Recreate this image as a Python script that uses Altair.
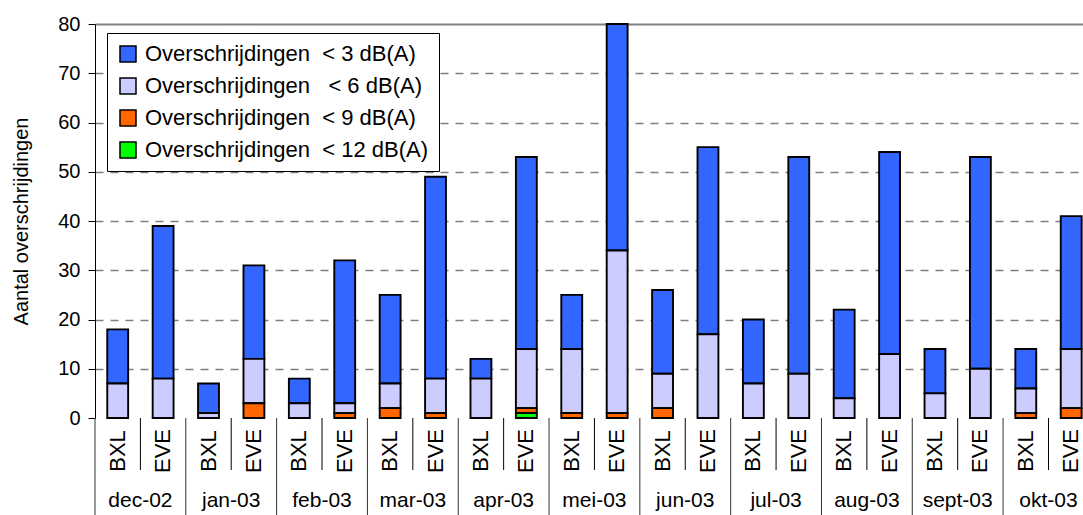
import altair as alt
import pandas as pd

months = ["dec-02", "jan-03", "feb-03", "mar-03", "apr-03", "mei-03",
          "jun-03", "jul-03", "aug-03", "sept-03", "okt-03"]
stations = ["BXL", "EVE"]
NB = "\u00a0"
categories = [
    "Overschrijdingen" + NB * 2 + "< 3 dB(A)",
    "Overschrijdingen" + NB * 3 + "< 6 dB(A)",
    "Overschrijdingen" + NB * 2 + "< 9 dB(A)",
    "Overschrijdingen" + NB * 2 + "< 12 dB(A)",
]
colors = ["#3366FF", "#CCCCFF", "#FF6600", "#00FF00"]

# segment counts per bar (dec BXL, dec EVE, jan BXL, jan EVE, ...)
lt3 = [11, 31, 6, 19, 5, 29, 18, 41, 4, 39, 11, 46, 17, 38, 13, 44, 18, 41, 9, 43, 8, 27]
lt6 = [7, 8, 1, 9, 3, 2, 5, 7, 8, 12, 13, 33, 7, 17, 7, 9, 4, 13, 5, 10, 5, 12]
lt9 = [0, 0, 0, 3, 0, 1, 2, 1, 0, 1, 1, 1, 2, 0, 0, 0, 0, 0, 0, 0, 1, 2]
lt12 = [0, 0, 0, 0, 0, 0, 0, 0, 0, 1, 0, 0, 0, 0, 0, 0, 0, 0, 0, 0, 0, 0]
series = [lt3, lt6, lt9, lt12]

rows = []
for i in range(len(months) * 2):
    for c, (cat, vals) in enumerate(zip(categories, series)):
        rows.append({"idx": i, "month": months[i // 2], "station": stations[i % 2],
                     "cat": cat, "value": vals[i], "stackorder": 3 - c})
df = pd.DataFrame(rows)

bars_df = pd.DataFrame({"idx": list(range(22)),
                        "station": [stations[i % 2] for i in range(22)]})
months_df = pd.DataFrame({"m": list(range(len(months))), "label": months})
seps_df = pd.DataFrame({"k": list(range(22))})

W, H = 988, 394
xscale = alt.Scale(domain=[0, 21.76], nice=False, zero=False)

bars = alt.Chart(df).transform_stack(
    stack="value", groupby=["idx"], as_=["y0", "y1"],
    sort=[alt.SortField("stackorder", order="ascending")]
).transform_filter("datum.value > 0").transform_calculate(
    xl="datum.idx + 0.27", xr="datum.idx + 0.73"
).mark_bar(stroke="black", strokeWidth=1.9).encode(
    x=alt.X("xl:Q", scale=xscale,
            axis=alt.Axis(labels=False, ticks=False, grid=False, title=None,
                          domainColor="black", domainWidth=1.5)),
    x2="xr:Q",
    y=alt.Y("y0:Q",
            scale=alt.Scale(domain=[0, 80], nice=False),
            axis=alt.Axis(values=list(range(0, 81, 10)), title="Aantal overschrijdingen",
                          labelFontSize=20, labelColor="black", labelPadding=8,
                          tickSize=7, tickColor="black", domainColor="black",
                          titleFontSize=20, titleFontWeight="normal", titleColor="black",
                          titlePadding=26,
                          grid=True, gridColor="#808080",
                          gridDash={"condition": {"test": "datum.value >= 80", "value": [1, 0]},
                                    "value": [8, 7]},
                          gridWidth={"condition": {"test": "datum.value >= 80", "value": 2},
                                     "value": 1.3},
                          gridOpacity={"condition": {"test": "datum.value <= 0", "value": 0},
                                       "value": 1})),
    y2="y1:Q",
    color=alt.Color("cat:N", scale=alt.Scale(domain=categories, range=colors),
                    legend=alt.Legend(title=None, orient="none", legendX=12, legendY=9,
                                      strokeColor="black", fillColor="white", padding=10,
                                      symbolType="square", symbolSize=256,
                                      symbolStrokeColor="black", symbolStrokeWidth=1.5,
                                      labelFontSize=22, labelFont="Liberation Sans",
                                      labelColor="black", rowPadding=10, labelOffset=6,
                                      labelLimit=400, symbolOpacity=1)),
)

short_seps = alt.Chart(seps_df).transform_filter("datum.k % 2 == 1").mark_rule(
    color="black", strokeWidth=1).encode(
    x=alt.X("k:Q", scale=xscale, axis=None),
    y=alt.value(H), y2=alt.value(H + 52))

long_seps = alt.Chart(seps_df).transform_filter("datum.k % 2 == 0").mark_rule(
    color="#333333", strokeWidth=1).encode(
    x=alt.X("k:Q", scale=xscale, axis=None),
    y=alt.value(H), y2=alt.value(H + 97))

station_text = alt.Chart(bars_df).transform_calculate(xc="datum.idx + 0.5").mark_text(
    angle=270, fontSize=22, align="center", baseline="middle", color="black",
    font="Liberation Sans").encode(
    x=alt.X("xc:Q", scale=xscale, axis=None),
    y=alt.value(H + 33),
    text="station:N")

month_text = alt.Chart(months_df).transform_calculate(xc="datum.m * 2 + 1").mark_text(
    fontSize=21, align="center", baseline="middle", color="black",
    font="Liberation Sans").encode(
    x=alt.X("xc:Q", scale=xscale, axis=None),
    y=alt.value(H + 83),
    text="label:N")

chart = alt.layer(bars, short_seps, long_seps, station_text, month_text).properties(
    width=W, height=H,
    padding={"left": 95, "top": 24, "right": 0, "bottom": 97},
    autosize="none",
).configure(font="Liberation Sans").configure_view(stroke=None)

chart.save("out.html", embed_options={"renderer": "svg", "actions": False})
